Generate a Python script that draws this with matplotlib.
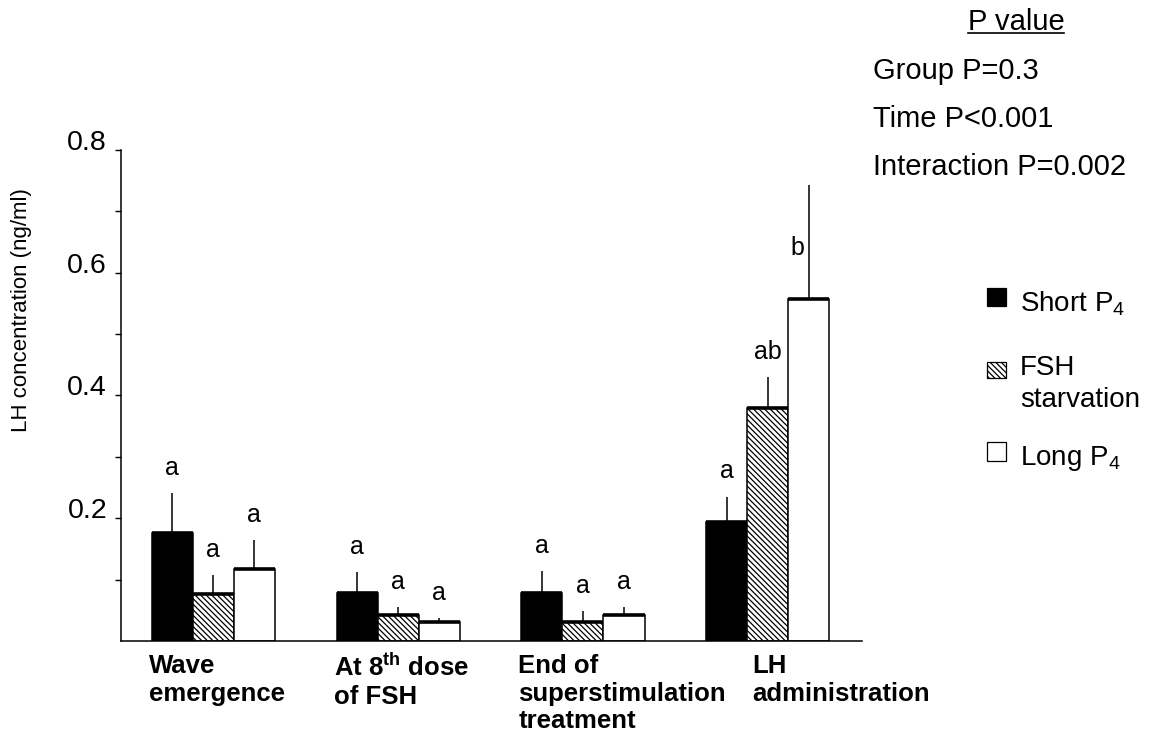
import matplotlib
matplotlib.use("Agg")
import matplotlib.pyplot as plt
import numpy as np
from matplotlib.patches import Rectangle
from matplotlib.lines import Line2D

plt.rcParams['font.family'] = ['Liberation Sans', 'DejaVu Sans']
plt.rcParams['mathtext.fontset'] = 'custom'
plt.rcParams['mathtext.rm'] = 'Liberation Sans'
plt.rcParams['mathtext.bf'] = 'Liberation Sans:bold'
plt.rcParams['mathtext.default'] = 'regular'
plt.rcParams['hatch.linewidth'] = 0.9

# data
times = ['Wave\nemergence', 'At 8$^{\\mathbf{th}}$ dose\nof FSH',
         'End of\nsuperstimulation\ntreatment', 'LH\nadministration']
short_p4 = [0.176, 0.078, 0.078, 0.194]
short_sem = [0.065, 0.034, 0.036, 0.041]
fsh_starv = [0.077, 0.042, 0.031, 0.379]
fsh_sem = [0.030, 0.013, 0.018, 0.051]
long_p4 = [0.117, 0.031, 0.042, 0.557]
long_sem = [0.047, 0.006, 0.013, 0.186]
short_let = ['a', 'a', 'a', 'a']
fsh_let = ['a', 'a', 'a', 'ab']
long_let = ['a', 'a', 'a', 'b']
pvals = ['Group P=0.3', 'Time P<0.001', 'Interaction P=0.002']
legend_labels = ['Short P$_4$', 'FSH\nstarvation', 'Long P$_4$']

W, H = 1149, 734
fig = plt.figure(figsize=(W / 100, H / 100), dpi=100)
ax = fig.add_axes([121 / W, 1 - 641 / H, 741 / W, 491 / H])

HATCH = '\\\\\\\\\\\\'
x = np.arange(len(times))
w = 0.222
series = [(short_p4, short_sem, short_let, dict(color='black')),
          (fsh_starv, fsh_sem, fsh_let, dict(color='white', hatch=HATCH)),
          (long_p4, long_sem, long_let, dict(color='white'))]

for i, (vals, sem, lets, style) in enumerate(series):
    xs = x + (i - 1) * w
    ax.bar(xs, vals, w, edgecolor='black', linewidth=1.1, zorder=2, **style)
    ax.errorbar(xs, vals, yerr=[np.zeros(len(vals)), sem], fmt='none',
                ecolor='black', elinewidth=1.1, capsize=0, zorder=1)
    ax.hlines(vals, xs - w / 2, xs + w / 2, color='black', lw=2.6, zorder=3)
    for xi, v, s, l in zip(xs, vals, sem, lets):
        top = v + s
        if top > 0.7:
            ax.text(xi - 0.025, v + 0.072, l, ha='right', va='baseline', fontsize=18)
        else:
            ax.text(xi, top + 0.03, l, ha='center', va='baseline', fontsize=18)

ax.set_xlim(-0.5, 3.51)
ax.set_ylim(0, 0.8)
ax.set_yticks([0.2, 0.4, 0.6, 0.8])
ax.set_yticklabels(['0.2', '0.4', '0.6', '0.8'])
ax.set_yticks([0.1, 0.3, 0.5, 0.7], minor=True)
ax.tick_params(axis='y', which='both', direction='out', length=4.5, width=1,
               labelsize=20.5, pad=5.5)
for lab in ax.get_yticklabels():
    lab.set_verticalalignment('baseline')
ax.set_xticks([])
for s in ['top', 'right']:
    ax.spines[s].set_visible(False)
for s in ['left', 'bottom']:
    ax.spines[s].set_linewidth(1.1)

# category labels, left aligned under each group, pushed right if they would collide
fig.canvas.draw()
rend = fig.canvas.get_renderer()
prev_right = None
for xi, t in zip(x, times):
    lx = xi - 1.5 * w - 0.016
    txt = ax.text(lx, -0.026, t, transform=ax.get_xaxis_transform(),
                  ha='left', va='top', fontsize=18.5, fontweight='bold',
                  linespacing=1.2)
    bb = txt.get_window_extent(rend)
    if prev_right is not None and bb.x0 < prev_right + 26:
        shift = prev_right + 26 - bb.x0
        px = ax.transData.transform((lx, 0))[0] + shift
        txt.set_x(ax.transData.inverted().transform((px, 0))[0])
        bb = txt.get_window_extent(rend)
    prev_right = bb.x1

fig.text(22 / W, 1 - 310 / H, 'LH concentration (ng/ml)', rotation=90, ha='center',
         va='center', fontsize=16)

# p-value block
pv = fig.text(1016 / W, 1 - 30 / H, 'P value', ha='center', va='baseline', fontsize=21)
bb = pv.get_window_extent(rend)
fig.add_artist(Line2D([bb.x0 / W, bb.x1 / W], [1 - 33 / H, 1 - 33 / H],
                      color='black', lw=1.2))
for k, t in enumerate(pvals):
    fig.text(873 / W, 1 - (79 + 48 * k) / H, t, ha='left', va='baseline',
             fontsize=21)

# legend
leg_styles = [dict(facecolor='black'), dict(facecolor='white', hatch=HATCH),
              dict(facecolor='white')]
leg_boxes = [(288, 306), (362, 378), (442, 461)]
leg_base = [311, 375, 465]
for lab, st, (y0, y1), base in zip(legend_labels, leg_styles, leg_boxes, leg_base):
    fig.add_artist(Rectangle((987 / W, 1 - y1 / H), 19 / W, (y1 - y0) / H,
                             transform=fig.transFigure, edgecolor='black',
                             linewidth=0.9, **st))
    for k, line in enumerate(lab.split('\n')):
        fig.text(1020 / W, 1 - (base + 32 * k) / H, line, ha='left', va='baseline',
                 fontsize=20)

fig.savefig('out.png', dpi=100)
